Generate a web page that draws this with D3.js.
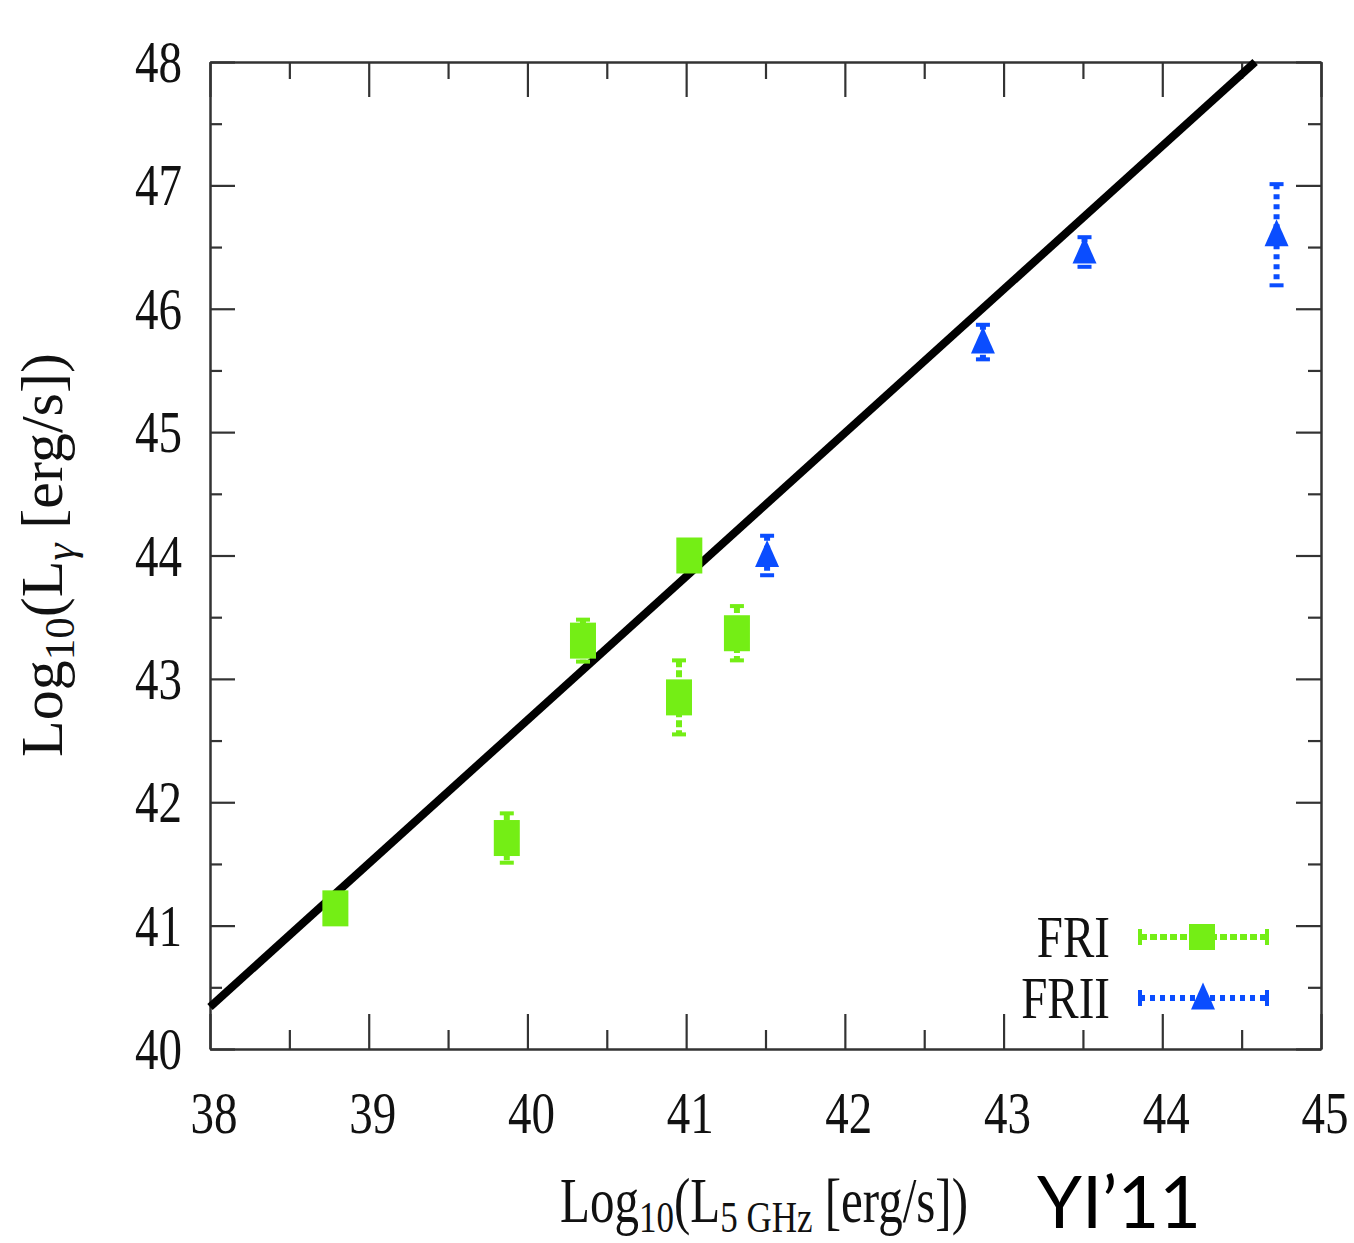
<!DOCTYPE html>
<html>
<head>
<meta charset="utf-8">
<script src="https://cdn.jsdelivr.net/npm/d3@7"></script>
<style>
  html, body { margin: 0; padding: 0; background: #fff; }
  svg { display: block; }
</style>
</head>
<body>
<svg id="chart" width="1354" height="1243"></svg>
<script>
// ---- data ----
const xTicks = [38, 39, 40, 41, 42, 43, 44, 45];
const yTicks = [40, 41, 42, 43, 44, 45, 46, 47, 48];
const xMinorTicks = [38.5, 39.5, 40.5, 41.5, 42.5, 43.5, 44.5];
const yMinorTicks = [40.5, 41.5, 42.5, 43.5, 44.5, 45.5, 46.5, 47.5];

const friX   = [38.79, 39.87, 40.35, 40.955, 41.02, 41.32];
const friY   = [41.14, 41.71, 43.31, 42.85, 44.00, 43.37];
const friErr = [0.08, 0.20, 0.17, 0.30, 0.08, 0.22];

const friiX   = [41.51, 42.87, 43.51, 44.72];
const friiY   = [44.00, 45.73, 46.46, 46.60];
const friiErr = [0.16, 0.14, 0.12, 0.41];

const fitX = [38, 44.585];
const fitY = [40.34, 48];

const seriesNames = ["FRI", "FRII"];

// ---- layout ----
const svg = d3.select("#chart");
const L = 210, R = 1321, T = 62, B = 1049;
const x = d3.scaleLinear().domain([38, 45]).range([L, R]);
const y = d3.scaleLinear().domain([40, 48]).range([B, T]);

const green = "#74ee15";
const blue = "#0a4dff";
const serif = "'Liberation Serif', 'Times New Roman', serif";

// ---- axes (ticks inward on all four sides) ----
function styleAxis(g) {
  g.selectAll("path.domain").attr("stroke", "#333").attr("stroke-width", 2);
  g.selectAll(".tick line").attr("stroke", "#333").attr("stroke-width", 2.2);
  g.selectAll(".tick text").remove();
}
svg.append("g").attr("transform", `translate(0,${B})`)
  .call(d3.axisBottom(x).tickValues(xTicks).tickSize(-35).tickSizeOuter(0)).call(styleAxis);
svg.append("g").attr("transform", `translate(0,${B})`)
  .call(d3.axisBottom(x).tickValues(xMinorTicks).tickSize(-19).tickSizeOuter(0)).call(styleAxis);
svg.append("g").attr("transform", `translate(0,${T})`)
  .call(d3.axisTop(x).tickValues(xTicks).tickSize(-35).tickSizeOuter(0)).call(styleAxis);
svg.append("g").attr("transform", `translate(0,${T})`)
  .call(d3.axisTop(x).tickValues(xMinorTicks).tickSize(-17).tickSizeOuter(0)).call(styleAxis);
svg.append("g").attr("transform", `translate(${L},0)`)
  .call(d3.axisLeft(y).tickValues(yTicks).tickSize(-25).tickSizeOuter(0)).call(styleAxis);
svg.append("g").attr("transform", `translate(${L},0)`)
  .call(d3.axisLeft(y).tickValues(yMinorTicks).tickSize(-12).tickSizeOuter(0)).call(styleAxis);
svg.append("g").attr("transform", `translate(${R},0)`)
  .call(d3.axisRight(y).tickValues(yTicks).tickSize(-25).tickSizeOuter(0)).call(styleAxis);
svg.append("g").attr("transform", `translate(${R},0)`)
  .call(d3.axisRight(y).tickValues(yMinorTicks).tickSize(-13).tickSizeOuter(0)).call(styleAxis);

// tick labels (slightly stretched vertically like the source)
const tickFont = 47;
svg.append("g").selectAll("text").data(yTicks).join("text")
  .attr("transform", d => `translate(182,${y(d) + 20}) scale(1,1.25)`)
  .attr("text-anchor", "end")
  .attr("font-family", serif).attr("font-size", tickFont).attr("fill", "#111")
  .text(d => d);
svg.append("g").selectAll("text").data(xTicks).join("text")
  .attr("transform", d => `translate(${x(d) + 4},1133) scale(1,1.25)`)
  .attr("text-anchor", "middle")
  .attr("font-family", serif).attr("font-size", tickFont).attr("fill", "#111")
  .text(d => d);

// axis titles
const xt = svg.append("text")
  .attr("transform", "translate(764,1222) scale(1,1.28)")
  .attr("text-anchor", "middle")
  .attr("font-family", serif).attr("font-size", 49).attr("fill", "#111");
xt.append("tspan").text("Log");
xt.append("tspan").attr("font-size", 35).attr("dy", 8).text("10");
xt.append("tspan").attr("dy", -8).text("(L");
xt.append("tspan").attr("font-size", 35).attr("dy", 8).text("5 GHz");
xt.append("tspan").attr("dy", -8).text(" [erg/s])");

const yt = svg.append("text")
  .attr("transform", "translate(62,555) rotate(-90)")
  .attr("text-anchor", "middle")
  .attr("font-family", serif).attr("font-size", 60).attr("fill", "#111");
yt.append("tspan").text("Log");
yt.append("tspan").attr("font-size", 43).attr("dy", 12).text("10");
yt.append("tspan").attr("dy", -12).text("(L");
yt.append("tspan").attr("font-size", 43).attr("dy", 12).attr("font-style", "italic").text("γ");
yt.append("tspan").attr("dy", -12).text(" [erg/s])");

svg.append("text")
  .attr("x", 1037).attr("y", 1228)
  .attr("font-family", "Lato, 'Open Sans', sans-serif").attr("font-size", 72).attr("fill", "#000")
  .text("YI\u201911");

// ---- fit line ----
svg.append("path")
  .datum(fitX.map((d, i) => [d, fitY[i]]))
  .attr("d", d3.line().x(d => x(d[0])).y(d => y(d[1])))
  .attr("stroke", "#000").attr("stroke-width", 8).attr("fill", "none");

// ---- error bars + markers ----
const capW = 14;
function errorBars(xs, ys, es, color, dash) {
  const g = svg.append("g");
  const data = xs.map((d, i) => ({x: d, y: ys[i], e: es[i]}));
  g.selectAll("line.stem").data(data).join("line")
    .attr("x1", d => x(d.x)).attr("x2", d => x(d.x))
    .attr("y1", d => y(d.y + d.e)).attr("y2", d => y(d.y - d.e))
    .attr("stroke", color).attr("stroke-width", 6).attr("stroke-dasharray", dash);
  ["top", "bot"].forEach(k => {
    g.selectAll("line.cap" + k).data(data).join("line")
      .attr("x1", d => x(d.x) - capW / 2).attr("x2", d => x(d.x) + capW / 2)
      .attr("y1", d => y(k === "top" ? d.y + d.e : d.y - d.e))
      .attr("y2", d => y(k === "top" ? d.y + d.e : d.y - d.e))
      .attr("stroke", color).attr("stroke-width", 4);
  });
}
errorBars(friX, friY, friErr, green, "7,3");
errorBars(friiX, friiY, friiErr, blue, "5,5");

const sqW = 26, sqH = 36;
svg.append("g").selectAll("rect").data(friX.map((d, i) => [d, friY[i]])).join("rect")
  .attr("x", d => x(d[0]) - sqW / 2).attr("y", d => y(d[1]) - sqH / 2)
  .attr("width", sqW).attr("height", sqH).attr("fill", green);

const triW = 24, triH = 27;
const triPath = `M0,${-triH / 2 - 2}L${triW / 2},${triH / 2 - 2}L${-triW / 2},${triH / 2 - 2}Z`;
svg.append("g").selectAll("path").data(friiX.map((d, i) => [d, friiY[i]])).join("path")
  .attr("transform", d => `translate(${x(d[0])},${y(d[1])})`)
  .attr("d", triPath).attr("fill", blue);

// ---- legend ----
const legY = [937, 998];
const legColors = [green, blue];
const legDash = ["7,3", "5,5"];
seriesNames.forEach((name, i) => {
  const yy = legY[i];
  svg.append("text")
    .attr("transform", `translate(1110,${yy + 20}) scale(1,1.25)`)
    .attr("text-anchor", "end")
    .attr("font-family", serif).attr("font-size", 47).attr("fill", "#111")
    .text(name);
  svg.append("line").attr("x1", 1140).attr("x2", 1267).attr("y1", yy).attr("y2", yy)
    .attr("stroke", legColors[i]).attr("stroke-width", 6).attr("stroke-dasharray", legDash[i]);
  [1140, 1267].forEach(xx => {
    svg.append("line").attr("x1", xx).attr("x2", xx).attr("y1", yy - 8).attr("y2", yy + 8)
      .attr("stroke", legColors[i]).attr("stroke-width", 4);
  });
  if (i === 0) {
    svg.append("rect").attr("x", 1202 - sqW / 2).attr("y", yy - 13).attr("width", sqW).attr("height", 26)
      .attr("fill", green);
  } else {
    svg.append("path").attr("transform", `translate(1203,${yy})`).attr("d", triPath).attr("fill", blue);
  }
});
</script>
</body>
</html>
